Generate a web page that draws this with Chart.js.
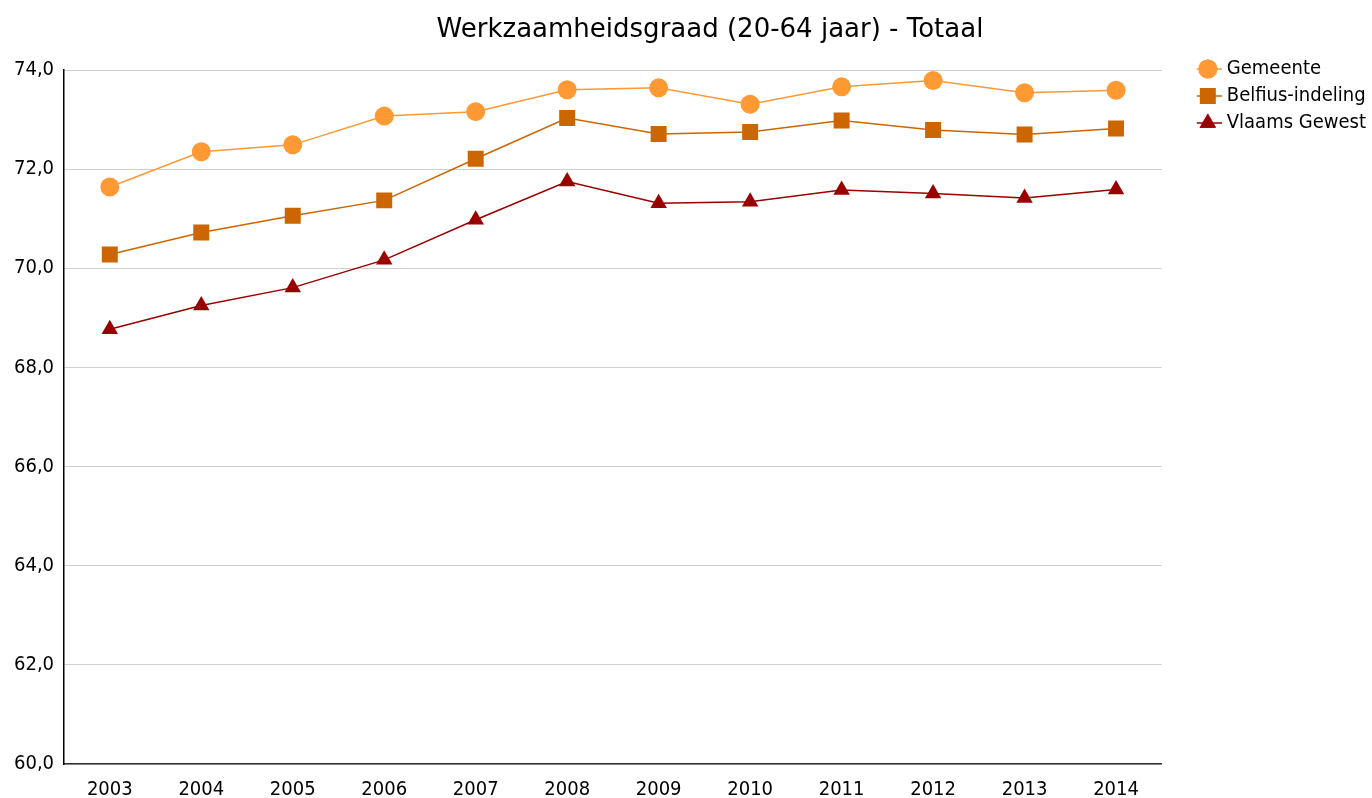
<!DOCTYPE html>
<html>
<head>
<meta charset="utf-8">
<script src="https://cdn.jsdelivr.net/npm/chart.js@4"></script>
<style>
  html, body { margin: 0; padding: 0; background: #fff; }
  #wrap { width: 1372px; height: 798px; }
</style>
</head>
<body>
<div id="wrap"><canvas id="chart"></canvas></div>
<script>
const years = ['2003', '2004', '2005', '2006', '2007', '2008', '2009', '2010', '2011', '2012', '2013', '2014'];
const gemeente = [71.64, 72.35, 72.49, 73.07, 73.16, 73.60, 73.64, 73.31, 73.66, 73.79, 73.54, 73.59];
const belfius = [70.28, 70.72, 71.06, 71.37, 72.21, 73.03, 72.71, 72.75, 72.98, 72.79, 72.70, 72.82];
const vlaams = [68.77, 69.25, 69.61, 70.17, 70.98, 71.75, 71.31, 71.34, 71.58, 71.51, 71.42, 71.59];

const titleText = 'Werkzaamheidsgraad (20-64 jaar) - Totaal';
const fontFamily = '"DejaVu Sans Condensed", "DejaVu Sans", sans-serif';

const symW = 44;   // legend box width
// legend symbol: short line with the marker on it, drawn on a canvas
// a little wider than the box so the line ends close to the text
function legendSymbol(color, style, radius) {
    const c = document.createElement('canvas');
    c.width = symW + 10;
    c.height = 24;
    const ctx = c.getContext('2d');
    const x0 = c.width - 25;
    ctx.strokeStyle = color;
    ctx.lineWidth = 1.5;
    ctx.beginPath();
    ctx.moveTo(x0, 12);
    ctx.lineTo(c.width, 12);
    ctx.stroke();
    ctx.fillStyle = color;
    Chart.helpers.drawPoint(ctx, { pointStyle: style, radius: radius, borderWidth: 0 }, x0 + 11, 12);
    ctx.fill();
    return c;
}

const series = [
    { label: 'Gemeente', data: gemeente, color: '#FF9933', style: 'circle', radius: 9.5 },
    { label: 'Belfius-indeling', data: belfius, color: '#CC6600', style: 'rect', radius: 11.3 },
    { label: 'Vlaams Gewest', data: vlaams, color: '#990000', style: 'triangle', radius: 9.5 }
];

const titlePlugin = {
    id: 'topTitle',
    afterDraw(chart) {
        const ctx = chart.ctx;
        ctx.save();
        ctx.font = '26px "DejaVu Sans", sans-serif';
        ctx.fillStyle = '#000';
        ctx.textAlign = 'center';
        ctx.textBaseline = 'middle';
        ctx.fillText(titleText, 710, 30);
        ctx.restore();
    }
};

// lift the legend up next to the top of the plot and nudge it right
const legendShift = {
    id: 'legendShift',
    afterLayout(chart) {
        const lg = chart.legend;
        if (!lg) return;
        lg.top -= 18;
        lg.bottom -= 18;
        lg.left += 4;
        lg.right += 4;
    }
};

new Chart(document.getElementById('chart'), {
    type: 'line',
    data: {
        labels: years,
        datasets: series.map(s => ({
            label: s.label,
            data: s.data,
            borderColor: s.color,
            backgroundColor: s.color,
            borderWidth: 1.5,
            pointStyle: s.style,
            pointRadius: s.radius,
            pointHoverRadius: s.radius,
            pointBorderWidth: 0,
            tension: 0
        }))
    },
    options: {
        responsive: true,
        maintainAspectRatio: false,
        animation: false,
        layout: { padding: { top: 70, right: 0, left: 4, bottom: -10 } },
        plugins: {
            title: { display: false },
            tooltip: { enabled: false },
            legend: {
                position: 'right',
                align: 'start',
                labels: {
                    usePointStyle: true,
                    pointStyleWidth: symW,
                    padding: 7,
                    color: '#000',
                    font: { family: fontFamily, size: 20 },
                    generateLabels(chart) {
                        return series.map((s, i) => ({
                            text: s.label,
                            pointStyle: legendSymbol(s.color, s.style, s.radius),
                            fillStyle: s.color,
                            strokeStyle: s.color,
                            lineWidth: 0,
                            hidden: false,
                            datasetIndex: i
                        }));
                    }
                }
            }
        },
        scales: {
            x: {
                offset: true,
                grid: { display: false },
                border: { display: true, color: '#333', width: 1.5 },
                ticks: { color: '#000', font: { family: fontFamily, size: 20, lineHeight: 1 }, padding: 8 }
            },
            y: {
                min: 60,
                max: 74,
                grid: { color: '#cfcfcf', lineWidth: 1, drawTicks: false },
                border: { display: true, color: '#000', width: 1.5 },
                ticks: {
                    stepSize: 2,
                    color: '#000',
                    padding: 10,
                    font: { family: fontFamily, size: 20 },
                    callback: v => v.toFixed(1).replace('.', ',')
                }
            }
        }
    },
    plugins: [titlePlugin, legendShift]
});
</script>
</body>
</html>
